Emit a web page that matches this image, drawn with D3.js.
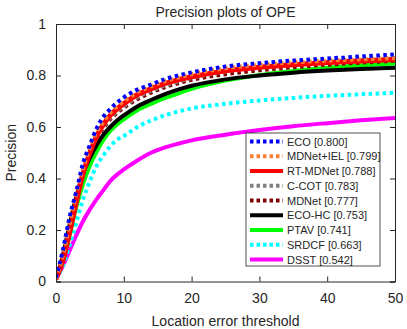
<!DOCTYPE html>
<meta charset="utf-8">
<style>
  body { margin: 0; background: #fff; }
  text { font-family: "Liberation Sans", Arial, sans-serif; fill: #262626; }
</style>
<body>
<script src="https://d3js.org/d3.v7.min.js"></script>
<script>
// thresholds (location error, px)
var thresholds = [0,1,2,3,4,5,6,7,8,9,10,12,14,16,18,20,25,30,35,40,45,50];

// tracker names, legend order
var names = ["ECO [0.800]", "MDNet+IEL [0.799]", "RT-MDNet [0.788]", "C-COT [0.783]",
             "MDNet [0.777]", "ECO-HC [0.753]", "PTAV [0.741]", "SRDCF [0.663]", "DSST [0.542]"];

// precision values per tracker
var eco      = [0.015,0.12,0.25,0.35,0.46,0.53,0.595,0.64,0.67,0.695,0.715,0.745,0.765,0.785,0.80,0.812,0.835,0.848,0.858,0.866,0.874,0.882];
var mdnetIel = [0.01,0.10,0.22,0.34,0.44,0.52,0.58,0.62,0.655,0.68,0.70,0.735,0.758,0.777,0.792,0.805,0.828,0.842,0.851,0.858,0.863,0.868];
var rtMdnet  = [0.01,0.08,0.19,0.31,0.42,0.50,0.565,0.61,0.645,0.67,0.69,0.725,0.748,0.768,0.783,0.795,0.818,0.832,0.842,0.850,0.856,0.862];
var ccot     = [0.01,0.09,0.20,0.32,0.42,0.50,0.56,0.60,0.635,0.66,0.68,0.715,0.74,0.76,0.776,0.79,0.815,0.832,0.843,0.852,0.859,0.865];
var mdnet    = [0.01,0.09,0.20,0.32,0.42,0.50,0.555,0.595,0.63,0.655,0.675,0.708,0.733,0.754,0.77,0.783,0.805,0.82,0.832,0.842,0.85,0.857];
var ecoHc    = [0.01,0.10,0.22,0.33,0.42,0.48,0.53,0.57,0.60,0.625,0.645,0.68,0.705,0.727,0.745,0.76,0.785,0.80,0.811,0.819,0.825,0.83];
var ptav     = [0.01,0.08,0.18,0.29,0.38,0.45,0.505,0.55,0.585,0.61,0.63,0.665,0.69,0.712,0.73,0.748,0.78,0.802,0.818,0.83,0.84,0.847];
var srdcf    = [0.01,0.06,0.14,0.23,0.32,0.39,0.45,0.49,0.525,0.55,0.565,0.60,0.625,0.645,0.66,0.672,0.69,0.703,0.713,0.721,0.727,0.733];
var dsst     = [0.01,0.06,0.12,0.18,0.235,0.28,0.32,0.355,0.39,0.415,0.435,0.47,0.50,0.52,0.535,0.548,0.57,0.588,0.603,0.615,0.626,0.635];

var xTicks = [0,10,20,30,40,50];
var yTicks = [0,0.2,0.4,0.6,0.8,1];

var series = [eco, mdnetIel, rtMdnet, ccot, mdnet, ecoHc, ptav, srdcf, dsst];
var colors = ["#0000ff", "#ff8033", "#ff0000", "#808080", "#800000", "#000000", "#00ff00", "#00ffff", "#ff00ff"];
var dotted = [true, true, false, true, true, false, false, true, false];

var W = 407, H = 329;
var margin = {top: 24, right: 12, bottom: 47.5, left: 56},
    width = W - margin.left - margin.right,
    height = H - margin.top - margin.bottom;

var x = d3.scaleLinear().domain([0, 50]).range([0, width]),
    y = d3.scaleLinear().domain([0, 1]).range([height, 0]);

var svg = d3.select("body").append("svg")
    .attr("width", W).attr("height", H)
  .append("g")
    .attr("transform", "translate(" + margin.left + "," + margin.top + ")");

svg.append("clipPath").attr("id", "clip")
  .append("rect").attr("width", width).attr("height", height);

var line = d3.line()
    .x(function(d, i){ return x(thresholds[i]); })
    .y(function(d){ return y(d); })
    .curve(d3.curveMonotoneX);

// draw in reverse legend order so ECO ends up on top
var plot = svg.append("g").attr("clip-path", "url(#clip)");
d3.range(series.length).reverse().forEach(function(k){
  plot.append("path")
    .datum(series[k])
    .attr("fill", "none")
    .attr("stroke", colors[k])
    .attr("stroke-width", dotted[k] ? 4 : (k == 2 ? 5 : 4))
    .attr("stroke-dasharray", dotted[k] ? "3.5,3.5" : null)
    .attr("d", line);
});

// axes (MATLAB style box, ticks inward)
var axisColor = "#262626";
var xAxis = svg.append("g").attr("transform", "translate(0," + height + ")")
  .call(d3.axisBottom(x).tickValues(xTicks).tickSize(-5).tickPadding(12).tickFormat(d3.format("d")));
var xTop = svg.append("g")
  .call(d3.axisTop(x).tickValues(xTicks).tickSize(-5).tickFormat(""));
var yAxis = svg.append("g")
  .call(d3.axisLeft(y).tickValues(yTicks).tickSize(-5).tickPadding(10).tickFormat(function(d){ return d3.format("")(+d.toFixed(1)); }));
var yRight = svg.append("g").attr("transform", "translate(" + width + ",0)")
  .call(d3.axisRight(y).tickValues(yTicks).tickSize(-5).tickFormat(""));

[xAxis, xTop, yAxis, yRight].forEach(function(a){
  a.select(".domain").attr("stroke", axisColor);
  a.selectAll(".tick line").attr("stroke", axisColor);
  a.selectAll("text").attr("font-size", 14).attr("fill", axisColor)
    .attr("font-family", "Liberation Sans, Arial, sans-serif");
});

// titles
svg.append("text").attr("x", width / 2).attr("y", -7)
  .attr("text-anchor", "middle").attr("font-size", 14).text("Precision plots of OPE");
svg.append("text").attr("x", width / 2).attr("y", height + 44)
  .attr("text-anchor", "middle").attr("font-size", 14).text("Location error threshold");
svg.append("text").attr("transform", "translate(-40," + height / 2 + ") rotate(-90)")
  .attr("text-anchor", "middle").attr("font-size", 14).text("Precision");

// legend
var lg = svg.append("g").attr("transform", "translate(" + (246 - margin.left) + "," + (133 - margin.top) + ")");
lg.append("rect").attr("width", 134).attr("height", 133)
  .attr("fill", "#fff").attr("stroke", axisColor).attr("stroke-width", 0.8);
names.forEach(function(n, k){
  var row = lg.append("g").attr("transform", "translate(0," + (8.5 + k * 14.75) + ")");
  row.append("line").attr("x1", 4).attr("x2", 37).attr("y1", 0).attr("y2", 0)
    .attr("stroke", colors[k]).attr("stroke-width", 4)
    .attr("stroke-dasharray", dotted[k] ? "3.5,3" : null);
  row.append("text").attr("x", 41).attr("y", 4).attr("font-size", 11).text(n);
});
</script>
</body>
